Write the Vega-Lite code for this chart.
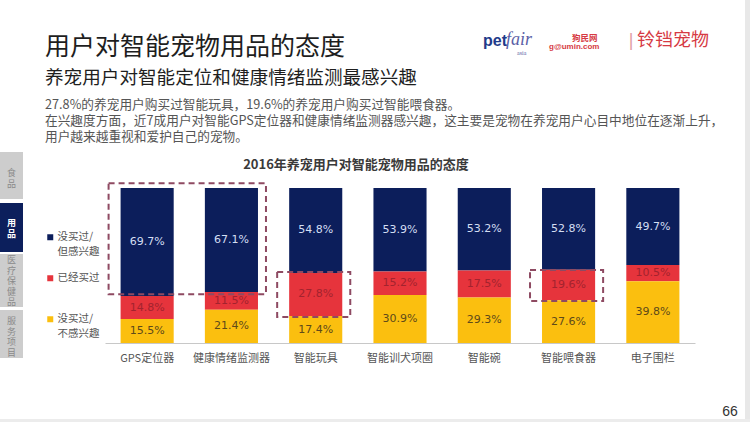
{
  "$schema": "https://vega.github.io/schema/vega-lite/v6.json",
  "width": 590,
  "height": 155,
  "autosize": {"type": "none"},
  "padding": {"left": 105, "top": 188, "right": 55, "bottom": 79},
  "background": "white",
  "config": {
    "view": {"stroke": null},
    "font": "Noto Sans CJK SC",
    "style": {"guide-label": {"lineHeight": 15}}
  },
  "datasets": {
    "bars": [
      {"item": "GPS定位器", "status": "没买过/但感兴趣", "level": 3, "pct": 0.697},
      {"item": "GPS定位器", "status": "已经买过", "level": 2, "pct": 0.148},
      {"item": "GPS定位器", "status": "没买过/不感兴趣", "level": 1, "pct": 0.155},
      {"item": "健康情绪监测器", "status": "没买过/但感兴趣", "level": 3, "pct": 0.671},
      {"item": "健康情绪监测器", "status": "已经买过", "level": 2, "pct": 0.115},
      {"item": "健康情绪监测器", "status": "没买过/不感兴趣", "level": 1, "pct": 0.214},
      {"item": "智能玩具", "status": "没买过/但感兴趣", "level": 3, "pct": 0.548},
      {"item": "智能玩具", "status": "已经买过", "level": 2, "pct": 0.278},
      {"item": "智能玩具", "status": "没买过/不感兴趣", "level": 1, "pct": 0.174},
      {"item": "智能训犬项圈", "status": "没买过/但感兴趣", "level": 3, "pct": 0.539},
      {"item": "智能训犬项圈", "status": "已经买过", "level": 2, "pct": 0.152},
      {"item": "智能训犬项圈", "status": "没买过/不感兴趣", "level": 1, "pct": 0.309},
      {"item": "智能碗", "status": "没买过/但感兴趣", "level": 3, "pct": 0.532},
      {"item": "智能碗", "status": "已经买过", "level": 2, "pct": 0.175},
      {"item": "智能碗", "status": "没买过/不感兴趣", "level": 1, "pct": 0.293},
      {"item": "智能喂食器", "status": "没买过/但感兴趣", "level": 3, "pct": 0.528},
      {"item": "智能喂食器", "status": "已经买过", "level": 2, "pct": 0.196},
      {"item": "智能喂食器", "status": "没买过/不感兴趣", "level": 1, "pct": 0.276},
      {"item": "电子围栏", "status": "没买过/但感兴趣", "level": 3, "pct": 0.497},
      {"item": "电子围栏", "status": "已经买过", "level": 2, "pct": 0.105},
      {"item": "电子围栏", "status": "没买过/不感兴趣", "level": 1, "pct": 0.398}
    ],
    "boxes": [
      {"from": "GPS定位器", "to": "健康情绪监测器", "lo": 0.315, "hi": 1.03},
      {"from": "智能玩具", "to": "智能玩具", "lo": 0.168, "hi": 0.458},
      {"from": "智能喂食器", "to": "智能喂食器", "lo": 0.271, "hi": 0.471}
    ]
  },
  "layer": [
    {
      "data": {"values": [{}]},
      "mark": {"type": "rect", "fill": "#e8e8e8", "x": 640, "x2": 645, "y": -188, "y2": 234},
      "encoding": {}
    },
    {
      "data": {"values": [{}]},
      "mark": {"type": "rect", "fill": "#ececec", "x": -105, "x2": 645, "y": 231, "y2": 234},
      "encoding": {}
    },
    {
      "data": {"values": [{"t": "用户对智能宠物用品的态度"}]},
      "mark": {"type": "text", "x": -60, "y": -141, "align": "left", "baseline": "middle", "fontSize": 25, "color": "#1e1e1e"},
      "encoding": {"text": {"field": "t"}}
    },
    {
      "data": {"values": [{"t": "养宠用户对智能定位和健康情绪监测最感兴趣"}]},
      "mark": {"type": "text", "x": -60, "y": -110, "align": "left", "baseline": "middle", "fontSize": 18.6, "color": "#1e1e1e"},
      "encoding": {"text": {"field": "t"}}
    },
    {
      "data": {"values": [{"t": ["27.8%的养宠用户购买过智能玩具，19.6%的养宠用户购买过智能喂食器。", "在兴趣度方面，近7成用户对智能GPS定位器和健康情绪监测器感兴趣，这主要是宠物在养宠用户心目中地位在逐渐上升，", "用户越来越重视和爱护自己的宠物。"]}]},
      "mark": {"type": "text", "x": -60, "y": -79, "align": "left", "baseline": "alphabetic", "fontSize": 12.7, "lineHeight": 16, "color": "#555555"},
      "encoding": {"text": {"field": "t"}}
    },
    {
      "data": {"values": [{"t": "pet"}]},
      "mark": {"type": "text", "x": 378, "y": -147, "align": "left", "baseline": "middle", "font": "Liberation Sans", "fontWeight": "bold", "fontSize": 16, "color": "#1f3b8a"},
      "encoding": {"text": {"field": "t"}}
    },
    {
      "data": {"values": [{"t": "fair"}]},
      "mark": {"type": "text", "x": 401, "y": -148, "align": "left", "baseline": "middle", "font": "Liberation Serif", "fontStyle": "italic", "fontSize": 18, "color": "#5b5fa6"},
      "encoding": {"text": {"field": "t"}}
    },
    {
      "data": {"values": [{"t": "asia"}]},
      "mark": {"type": "text", "x": 412, "y": -135, "align": "left", "baseline": "middle", "font": "Liberation Serif", "fontSize": 6, "color": "#5b5fa6"},
      "encoding": {"text": {"field": "t"}}
    },
    {
      "data": {"values": [{"t": "狗民网"}]},
      "mark": {"type": "text", "x": 467, "y": -150, "align": "left", "baseline": "middle", "fontWeight": "bold", "fontSize": 8.5, "color": "#d63a44"},
      "encoding": {"text": {"field": "t"}}
    },
    {
      "data": {"values": [{"t": "g@umin.com"}]},
      "mark": {"type": "text", "x": 444, "y": -141, "align": "left", "baseline": "middle", "font": "Liberation Sans", "fontWeight": "bold", "fontSize": 8, "color": "#d63a44"},
      "encoding": {"text": {"field": "t"}}
    },
    {
      "data": {"values": [{"t": "|"}]},
      "mark": {"type": "text", "x": 526, "y": -147, "align": "center", "baseline": "middle", "font": "Liberation Sans", "fontSize": 18, "color": "#e2a0a6"},
      "encoding": {"text": {"field": "t"}}
    },
    {
      "data": {"values": [{"t": "铃铛宠物"}]},
      "mark": {"type": "text", "x": 532, "y": -147, "align": "left", "baseline": "middle", "fontSize": 18, "color": "#d63a44"},
      "encoding": {"text": {"field": "t"}}
    },
    {
      "data": {"values": [{}]},
      "mark": {"type": "rect", "fill": "#cdcdcd", "x": -105, "x2": -82, "y": -36, "y2": 11},
      "encoding": {}
    },
    {
      "data": {"values": [{}]},
      "mark": {"type": "rect", "fill": "#0c1f5c", "x": -105, "x2": -82, "y": 15, "y2": 64},
      "encoding": {}
    },
    {
      "data": {"values": [{}]},
      "mark": {"type": "rect", "fill": "#cdcdcd", "x": -105, "x2": -82, "y": 66, "y2": 119},
      "encoding": {}
    },
    {
      "data": {"values": [{}]},
      "mark": {"type": "rect", "fill": "#cdcdcd", "x": -105, "x2": -82, "y": 122, "y2": 170},
      "encoding": {}
    },
    {
      "data": {"values": [{"t": ["食", "品"]}]},
      "mark": {"type": "text", "x": -93.5, "y": -15, "align": "center", "baseline": "middle", "fontSize": 9, "lineHeight": 10.5, "color": "#8a8a8a"},
      "encoding": {"text": {"field": "t"}}
    },
    {
      "data": {"values": [{"t": ["用", "品"]}]},
      "mark": {"type": "text", "x": -93.5, "y": 35, "align": "center", "baseline": "middle", "fontSize": 9, "lineHeight": 10.5, "fontWeight": "bold", "color": "#ffffff"},
      "encoding": {"text": {"field": "t"}}
    },
    {
      "data": {"values": [{"t": ["医", "疗", "保", "健", "品"]}]},
      "mark": {"type": "text", "x": -93.5, "y": 72, "align": "center", "baseline": "middle", "fontSize": 9, "lineHeight": 10.5, "color": "#8a8a8a"},
      "encoding": {"text": {"field": "t"}}
    },
    {
      "data": {"values": [{"t": ["服", "务", "项", "目"]}]},
      "mark": {"type": "text", "x": -93.5, "y": 133, "align": "center", "baseline": "middle", "fontSize": 9, "lineHeight": 10.5, "color": "#8a8a8a"},
      "encoding": {"text": {"field": "t"}}
    },
    {
      "data": {"values": [{"t": "2016年养宠用户对智能宠物用品的态度"}]},
      "mark": {"type": "text", "x": 251, "y": -23, "align": "center", "baseline": "middle", "fontSize": 13, "fontWeight": "bold", "color": "#3a3a3a"},
      "encoding": {"text": {"field": "t"}}
    },
    {
      "data": {"values": [{"t": "66"}]},
      "mark": {"type": "text", "x": 625, "y": 224, "align": "center", "baseline": "middle", "font": "Liberation Sans", "fontSize": 14, "color": "#333333"},
      "encoding": {"text": {"field": "t"}}
    },
    {
      "data": {"name": "bars"},
      "mark": {"type": "bar"},
      "encoding": {
        "x": {
          "field": "item", "type": "nominal",
          "scale": {"domain": ["GPS定位器", "健康情绪监测器", "智能玩具", "智能训犬项圈", "智能碗", "智能喂食器", "电子围栏"], "paddingInner": 0.37, "paddingOuter": 0.185},
          "axis": {"title": null, "labelAngle": 0, "ticks": false, "grid": false, "domainColor": "#c8c8c8", "domainWidth": 1, "labelFont": "Noto Sans CJK SC", "labelFontSize": 11, "labelColor": "#555555", "labelPadding": 9}
        },
        "y": {"field": "pct", "type": "quantitative", "stack": "zero", "scale": {"domain": [0, 1], "nice": false}, "axis": null},
        "order": {"field": "level", "type": "quantitative", "sort": "ascending"},
        "color": {
          "field": "status", "type": "nominal",
          "scale": {"domain": ["没买过/但感兴趣", "已经买过", "没买过/不感兴趣"], "range": ["#0c1e5b", "#e6343c", "#fbbf0f"]},
          "legend": {
            "orient": "none", "legendX": -60, "legendY": 44, "direction": "vertical", "title": null, "padding": 0,
            "symbolType": "square", "symbolSize": 36, "symbolStrokeWidth": 0, "rowPadding": 15,
            "labelFont": "Noto Sans CJK SC", "labelFontSize": 10.5, "labelColor": "#555555", "labelOffset": 2, "labelLimit": 0,
            "labelExpr": "indexof(datum.label,'/')>0 ? [substring(datum.label,0,indexof(datum.label,'/')+1), substring(datum.label,indexof(datum.label,'/')+1)] : [datum.label, '']"
          }
        }
      }
    },
    {
      "data": {"name": "bars"},
      "mark": {"type": "text", "font": "DejaVu Sans", "fontSize": 11, "baseline": "middle", "align": "center"},
      "encoding": {
        "x": {"field": "item", "type": "nominal"},
        "y": {"field": "pct", "type": "quantitative", "stack": "zero", "bandPosition": 0.5},
        "order": {"field": "level", "type": "quantitative", "sort": "ascending"},
        "color": {
          "field": "status", "type": "nominal",
          "scale": {"domain": ["没买过/但感兴趣", "已经买过", "没买过/不感兴趣"], "range": ["#d4def3", "#a3232e", "#5e4a1a"]},
          "legend": null
        },
        "text": {"field": "pct", "type": "quantitative", "format": ".1%"}
      }
    },
    {
      "data": {"name": "boxes"},
      "mark": {"type": "rect", "fill": "white", "fillOpacity": 0, "stroke": "#8e4a62", "strokeWidth": 2, "strokeDash": [6, 4], "xOffset": -12, "x2Offset": 8},
      "encoding": {
        "x": {"field": "from", "type": "nominal", "bandPosition": 0},
        "x2": {"field": "to", "bandPosition": 1},
        "y": {"field": "lo", "type": "quantitative", "scale": {"domain": [0, 1], "nice": false}},
        "y2": {"field": "hi"}
      }
    }
  ],
  "resolve": {"scale": {"color": "independent"}}
}
